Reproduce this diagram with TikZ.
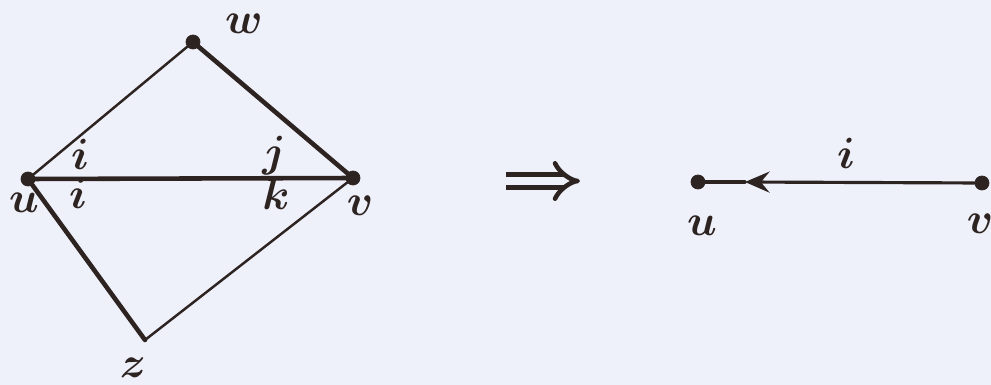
\documentclass[tikz,border=0pt]{standalone}
\usepackage{amsmath,amssymb}
\usepackage{tikz}
\usetikzlibrary{positioning}
\usetikzlibrary{arrows.meta}

\definecolor{paper}{RGB}{238,240,250}
\definecolor{ink}{RGB}{45,35,32}

\begin{document}
\begin{tikzpicture}[x=0.02cm,y=-0.02cm]
        \tikzstyle{vertex}=[circle,fill=ink,draw=ink,minimum size=8pt,inner sep=0pt]
        \tikzstyle{lbl}=[text=ink,font=\fontsize{24}{28}\selectfont\boldmath]
        \tikzstyle{thick edge}=[draw=ink,line width=2.6pt,line cap=round,line join=round]
        \tikzstyle{thin edge}=[draw=ink,line width=1.4pt,line cap=round]
            \fill[paper] (0,0) rectangle (991,385);
            \useasboundingbox (0,0) rectangle (991,385);

            % left graph
            \node[vertex] (u) at (28,179) {};
            \node[vertex] (w) at (193,42) {};
            \node[vertex] (v) at (353,178) {};
            \coordinate (z) at (145,340);

            \draw[thin edge] (u) -- (w);
            \draw[thick edge] (w) -- (v);
            \draw[thick edge] (u) -- (v);
            \draw[thick edge] (u) -- (z);
            \draw[thin edge] (z) -- (v);

            \node[lbl] (lw) at (244,24) {$w$};
            \node[lbl] (lu) at (24,203) {$u$};
            \node[lbl] (lv) at (360,206) {$v$};
            \node[lbl] (lz) at (133,368) {$z$};
            \node[lbl] (li1) at (80,154) {$i$};
            \node[lbl] (li2) at (78,193) {$i$};
            \node[lbl] (lj) at (274,156) {$j$};
            \node[lbl] (lk) at (276,194) {$k$};

            % implies
            \coordinate (p1) at (506,181);
            \coordinate (p2) at (580,181);
            \draw[draw=ink,line width=2.6pt,double=paper,double distance=5pt,
                -{Implies[length=8pt]}] (p1) -- (p2);

            % right graph
            \node[vertex] (u2) at (698,182) {};
            \node[vertex] (v2) at (982,183) {};
            \coordinate (mid) at (745,182);

            \draw[thin edge, line width=1.8pt, -{Stealth[length=14pt,width=12pt,inset=5pt]}]
            (v2) -- (mid);
            \draw[thin edge, line width=1.8pt] (mid) -- (u2);

            \node[lbl] (ri) at (846,153) {$i$};
            \node[lbl] (ru) at (702,226) {$u$};
            \node[lbl] (rv) at (980,224) {$v$};
        \end{tikzpicture}
\end{document}
